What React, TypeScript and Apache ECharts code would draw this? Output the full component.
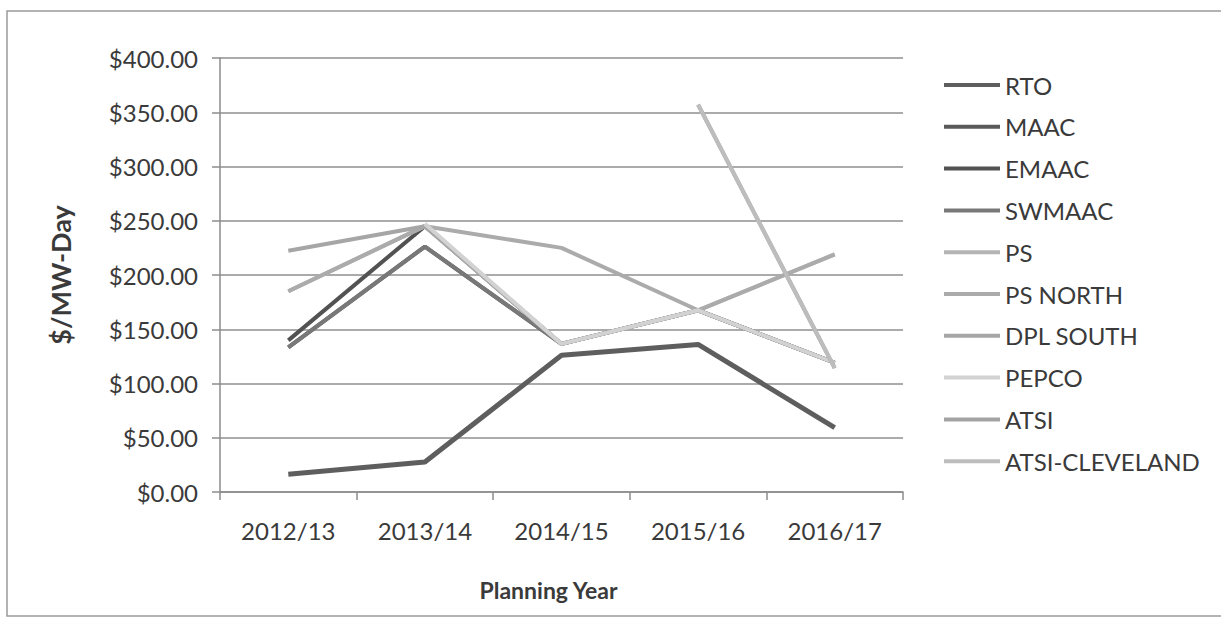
import React, { useEffect, useRef } from "react";
import * as echarts from "echarts";

const categories = ["2012/13", "2013/14", "2014/15", "2015/16", "2016/17"];
const seriesNames = ["RTO", "MAAC", "EMAAC", "SWMAAC", "PS", "PS NORTH", "DPL SOUTH", "PEPCO", "ATSI", "ATSI-CLEVELAND"];
const rto = [16.46, 27.73, 125.99, 136.0, 59.37];
const maac = [133.37, 226.15, 136.5, 167.46, 119.13];
const emaac = [139.73, 245.0, 136.5, 167.46, 119.13];
const swmaac = [133.37, 226.15, 136.5, 167.46, 119.13];
const ps = [185.0, 245.0, 136.5, 167.46, 219.0];
const psNorth = [185.0, 245.0, 225.0, 167.46, 219.0];
const dplSouth = [222.3, 245.0, 136.5, 167.46, 119.13];
const pepco = [null, 247.14, 136.5, 167.46, 119.13];
const atsi = [null, null, null, 357.0, 114.23];
const atsiCleveland = [null, null, null, 357.0, 114.23];
const yTicks = { min: 0, max: 400, interval: 50 };

const seriesData = [rto, maac, emaac, swmaac, ps, psNorth, dplSouth, pepco, atsi, atsiCleveland];
const colors = ["#5e5e5e", "#5a5a5a", "#525252", "#787878", "#b4b4b4", "#ababab", "#a6a6a6", "#d2d2d2", "#a3a3a3", "#bdbdbd"];
const widths = [5, 4, 4, 4, 4, 4, 4, 4, 4, 4];

const FONT = "Lato, 'Open Sans', sans-serif";

export default function App() {
  const ref = useRef<HTMLDivElement>(null);
  useEffect(() => {
    document.body.style.margin = "0";
    const chart = echarts.init(ref.current!, null, { renderer: "svg" });
    chart.setOption({
      animation: false,
      backgroundColor: "#ffffff",
      color: colors,
      textStyle: { fontFamily: FONT },
      graphic: [
        {
          type: "rect",
          shape: { x: 7, y: 11, width: 1230, height: 605 },
          style: { fill: "none", stroke: "#9a9a9a", lineWidth: 1.5 },
          silent: true,
        },
      ],
      grid: { left: 220, right: 318, top: 58, bottom: 127 },
      legend: {
        orient: "vertical",
        left: 939,
        top: 68,
        itemWidth: 56,
        itemHeight: 4,
        itemGap: 17.8,
        icon: "rect",
        data: seriesNames,
        textStyle: { fontFamily: FONT, fontSize: 24, color: "#3a3a3a" },
      },
      xAxis: {
        type: "category",
        data: categories,
        boundaryGap: true,
        axisLine: { show: true, lineStyle: { color: "#8c8c8c", width: 1.5 } },
        axisTick: { show: true, interval: 0, length: 8, lineStyle: { color: "#8c8c8c", width: 1.5 } },
        axisLabel: { margin: 26, fontSize: 24, color: "#3a3a3a", fontFamily: FONT },
        name: "Planning Year",
        nameLocation: "middle",
        nameGap: 86,
        nameTextStyle: { fontSize: 23, fontWeight: "bold", color: "#3a3a3a", fontFamily: FONT, padding: [0, 26, 0, 0] },
      },
      yAxis: {
        type: "value",
        min: yTicks.min,
        max: yTicks.max,
        interval: yTicks.interval,
        axisLine: { show: true, lineStyle: { color: "#8c8c8c", width: 1.5 } },
        axisTick: { show: true, length: 8, lineStyle: { color: "#8c8c8c", width: 1.5 } },
        axisLabel: {
          margin: 22,
          fontSize: 24,
          color: "#3a3a3a",
          fontFamily: FONT,
          formatter: (v: number) => "$" + v.toFixed(2),
        },
        splitLine: { show: true, lineStyle: { color: "#8f8f8f", width: 1.5 } },
        name: "$/MW-Day",
        nameLocation: "middle",
        nameRotate: 90,
        nameGap: 146,
        nameTextStyle: { fontSize: 27, fontWeight: "bold", color: "#3a3a3a", fontFamily: FONT },
      },
      series: seriesNames.map((name, i) => ({
        name,
        type: "line",
        data: seriesData[i],
        symbol: "none",
        showSymbol: false,
        connectNulls: false,
        lineStyle: { width: widths[i], color: colors[i] },
        itemStyle: { color: colors[i] },
        emphasis: { disabled: true },
      })),
    });
    return () => chart.dispose();
  }, []);
  return <div ref={ref} style={{ width: 1221, height: 619 }} />;
}
